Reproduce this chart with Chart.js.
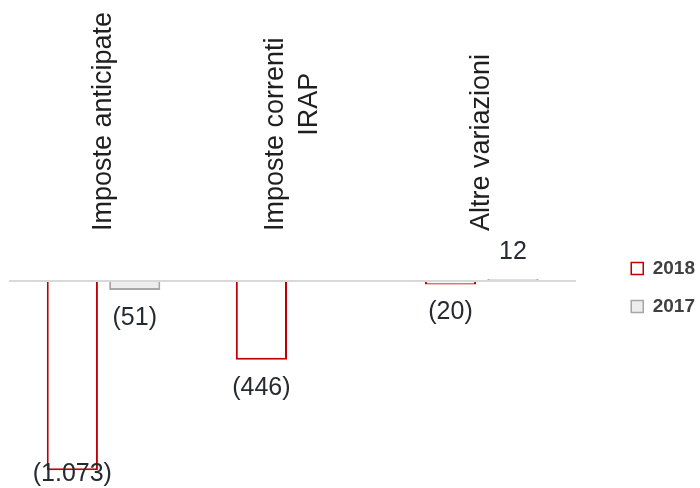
<!DOCTYPE html>
<html>
<head>
<meta charset="utf-8">
<script src="https://cdn.jsdelivr.net/npm/chart.js@4"></script>
<style>
  html, body { margin: 0; padding: 0; background: #fff; }
</style>
</head>
<body>
<canvas id="myChart" width="700" height="488"></canvas>
<script>
// categorie (la seconda va a capo come nel foglio originale)
const categories = [
  ['Imposte anticipate'],
  ['Imposte correnti        ', 'IRAP'],
  ['Altre variazioni']
];
const seriesNames = ['2018', '2017'];
const values2018 = [-1073, -446, -20];
const values2017 = [-51, 0, 12];

const FONT = '"Liberation Sans", Arial, sans-serif';

// 1073 -> "1.073", negativi tra parentesi
function fmt(v) {
  const s = Math.abs(v).toString().replace(/\B(?=(\d{3})+(?!\d))/g, '.');
  return v < 0 ? '(' + s + ')' : s;
}

// etichette delle categorie, ruotate, sopra l'area del grafico
const categoryLabels = {
  id: 'categoryLabels',
  afterDraw(chart) {
    const ctx = chart.ctx;
    const xScale = chart.scales.x;
    const bottom = chart.chartArea.top - 9;
    const lineHeight = 34;
    ctx.save();
    ctx.font = '27px ' + FONT;
    ctx.fillStyle = '#1f1f1f';
    ctx.textAlign = 'center';
    ctx.textBaseline = 'middle';
    categories.forEach(function (lines, i) {
      const x = xScale.getPixelForValue(i);
      const w = Math.max.apply(null, lines.map(function (l) { return ctx.measureText(l).width; }));
      ctx.save();
      ctx.translate(x, bottom);
      ctx.rotate(-Math.PI / 2);
      lines.forEach(function (line, j) {
        ctx.fillText(line, w / 2, (j - (lines.length - 1) / 2) * lineHeight);
      });
      ctx.restore();
    });
    ctx.restore();
  }
};

// valori sopra/sotto le barre
const valueLabels = {
  id: 'valueLabels',
  afterDatasetsDraw(chart) {
    const ctx = chart.ctx;
    ctx.save();
    ctx.font = '25px ' + FONT;
    ctx.fillStyle = '#262a33';
    ctx.textAlign = 'center';
    ctx.textBaseline = 'middle';
    chart.data.datasets.forEach(function (ds, di) {
      chart.getDatasetMeta(di).data.forEach(function (bar, i) {
        const v = ds.data[i];
        if (!v) return;
        let y = v < 0 ? bar.y + 28 : bar.y - 27;
        y = Math.min(y, chart.height - 14);
        ctx.fillText(fmt(v), bar.x, y);
      });
    });
    ctx.restore();
  }
};

const ctx = document.getElementById('myChart').getContext('2d');
const myChart = new Chart(ctx, {
  type: 'bar',
  data: {
    labels: categories,
    datasets: [{
      label: seriesNames[0],
      data: values2018,
      backgroundColor: '#ffffff',
      borderColor: '#c00000',
      borderWidth: 2
    }, {
      label: seriesNames[1],
      data: values2017,
      backgroundColor: '#ededed',
      borderColor: '#a6a6a6',
      borderWidth: 2
    }]
  },
  options: {
    responsive: false,
    animation: false,
    categoryPercentage: 0.66,
    barPercentage: 0.82,
    layout: { padding: { top: 240, bottom: 13, left: 9, right: -5 } },
    scales: {
      x: { display: false },
      y: {
        position: 'right',
        min: -1100,
        max: 233,
        ticks: { display: false },
        border: { display: false },
        grid: {
          drawTicks: false,
          lineWidth: 2,
          color: function (c) { return c.tick.value === 0 ? '#d9d9d9' : 'rgba(0,0,0,0)'; }
        },
        // spazio vuoto tra il grafico e la legenda
        afterFit: function (scale) { scale.width = 36; }
      }
    },
    plugins: {
      tooltip: { enabled: false },
      legend: {
        position: 'right',
        align: 'start',
        labels: {
          boxWidth: 12,
          boxHeight: 12,
          padding: 19,
          color: '#404040',
          font: { size: 19, weight: 'bold', family: FONT },
          generateLabels: function (chart) {
            return Chart.defaults.plugins.legend.labels.generateLabels(chart).map(function (l) {
              l.lineWidth = 1.5;
              return l;
            });
          }
        }
      }
    }
  },
  plugins: [categoryLabels, valueLabels]
});
</script>
</body>
</html>
